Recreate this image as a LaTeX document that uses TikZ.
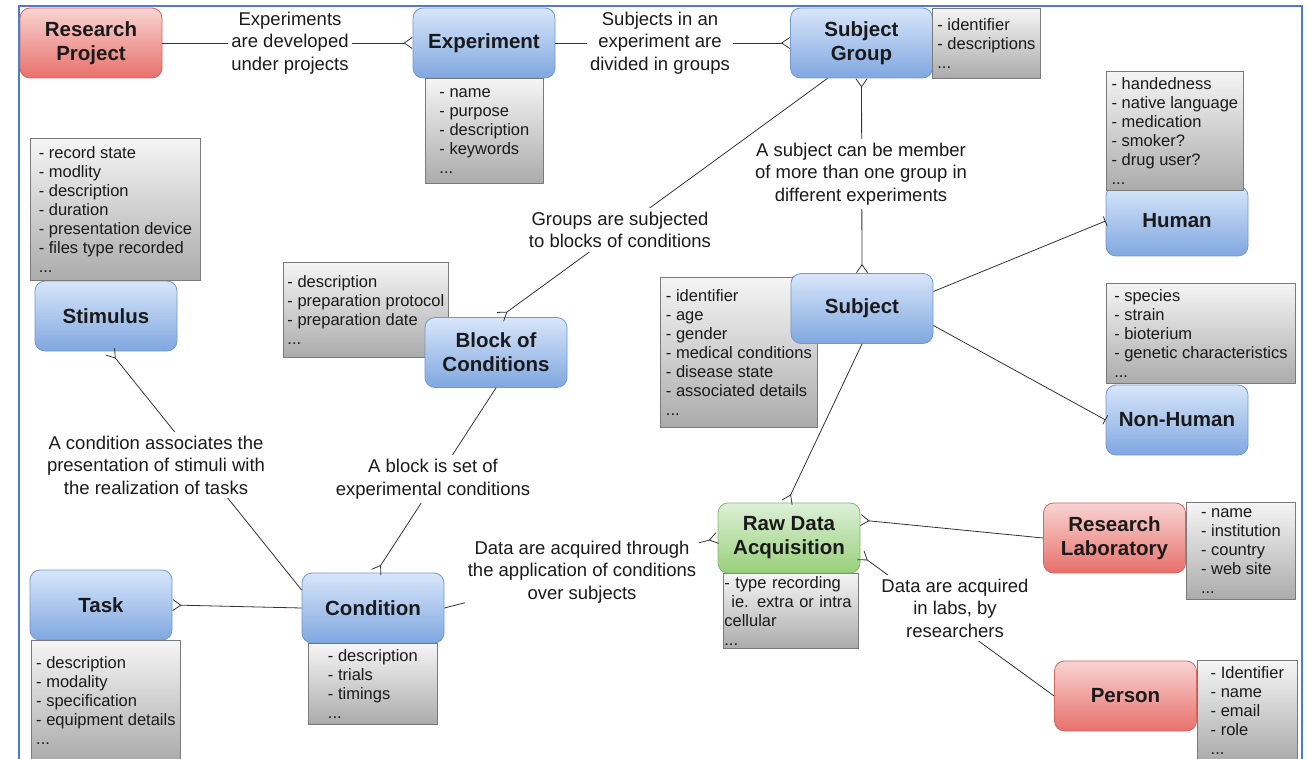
\documentclass[tikz,border=0pt]{standalone}
\usepackage{fontspec}
\setmainfont{Liberation Sans}
\usetikzlibrary{arrows.meta,calc}
\definecolor{bluetop}{HTML}{D8E6FA}
\definecolor{bluebot}{HTML}{7FA7E0}
\definecolor{blueline}{HTML}{7197CF}
\definecolor{redtop}{HTML}{F8D4D2}
\definecolor{redbot}{HTML}{E8706B}
\definecolor{redline}{HTML}{D06863}
\definecolor{greentop}{HTML}{DDF0D8}
\definecolor{greenbot}{HTML}{98D07A}
\definecolor{greenline}{HTML}{86B86C}
\definecolor{graytop}{HTML}{F5F5F5}
\definecolor{graybot}{HTML}{ABABAB}
\definecolor{grayline}{HTML}{7A7A7A}
\definecolor{frameblue}{HTML}{4D7BD2}
\definecolor{ink}{HTML}{1A1A1A}
\tikzset{
  crowf/.tip={Straight Barb[reversed,length=8pt,width=11pt,line width=0.8pt]},
  onebar/.tip={Bar[width=10pt,line width=0.8pt]},
  entity/.style={draw, rounded corners=10pt, minimum width=142pt, minimum height=70pt,
    align=center, text=ink, inner sep=2pt, line width=0.8pt,
    font=\fontsize{20.5}{24}\selectfont\bfseries},
  entblue/.style={entity, draw=blueline, top color=bluetop, bottom color=bluebot},
  entred/.style={entity, draw=redline, top color=redtop, bottom color=redbot},
  entgreen/.style={entity, draw=greenline, top color=greentop, bottom color=greenbot},
  attr/.style={draw=grayline, top color=graytop, bottom color=graybot, anchor=north west,
    align=left, text=ink, inner xsep=1pt, inner ysep=0pt, line width=0.8pt,
    font=\fontsize{16.5}{19}\selectfont},
  rel/.style={fill=white, align=center, text=ink, inner xsep=3pt, inner ysep=4pt,
    font=\fontsize{18.5}{22.5}\selectfont},
  conn/.style={draw=black!80, line width=0.8pt},
  frame/.style={draw=frameblue, line width=2pt}
}
\begin{document}
\begin{tikzpicture}[x=1pt,y=-1pt]
\useasboundingbox (0,0) rectangle (1309,759);
\clip (0,0) rectangle (1309,759);
\draw[frame] (19,6) rectangle (1302,800);

% attribute boxes lying under their entity
\node[attr, minimum width=165pt, minimum height=95pt] (blockattr) at (283,262)
  {- description\\- preparation protocol\\- preparation date\\...};
\node[attr, minimum width=157pt, minimum height=150pt] (subjattr) at (660,277)
  {- identifier\\- age\\- gender\\- medical conditions\\- disease state\\- associated details\\...};
\node[attr, text width=133pt, minimum height=75pt] (rdaattr) at (723,573)
  {- type recording\\\hspace*{7pt}ie. extra or intra\\cellular\\...};

% entities
\node[entred] (rp) at (91,43) {Research\\Project};
\node[entblue] (exp) at (484,43) {Experiment};
\node[entblue] (sg) at (861.5,43) {Subject\\Group};
\node[entblue] (human) at (1177,221) {Human};
\node[entblue] (stim) at (106,316) {Stimulus};
\node[entblue] (block) at (496,352.5) {Block of\\Conditions};
\node[entblue] (subj) at (862,308.5) {Subject};
\node[entblue] (nonhuman) at (1177,420) {Non-Human};
\node[entgreen] (rda) at (789,538) {Raw Data\\Acquisition};
\node[entred] (rl) at (1114.5,538) {Research\\Laboratory};
\node[entred] (person) at (1125.5,696) {Person};
\node[entblue] (task) at (101,605) {Task};
\node[entblue] (cond) at (373,608) {Condition};

% attribute boxes over their entity
\node[attr, minimum width=118pt, minimum height=105pt] (expattr) at (425,78)
  {- name\\- purpose\\- description\\- keywords\\...};
\node[attr, minimum width=108pt, minimum height=70pt] (sgattr) at (932,8)
  {- identifier\\- descriptions\\...};
\node[attr, minimum width=137pt, minimum height=119pt] (humanattr) at (1106,71)
  {- handedness\\- native language\\- medication\\- smoker?\\- drug user?\\...};
\node[attr, minimum width=170pt, minimum height=142pt] (stimattr) at (30,138)
  {- record state\\- modlity\\- description\\- duration\\- presentation device\\- files type recorded\\...};
\node[attr, minimum width=189pt, minimum height=100pt] (nhattr) at (1106,283)
  {- species\\- strain\\- bioterium\\- genetic characteristics\\...};
\node[attr, minimum width=109pt, minimum height=97pt] (rlattr) at (1186,502)
  {- name\\- institution\\- country\\- web site\\...};
\node[attr, minimum width=100pt, minimum height=100pt] (personattr) at (1197,660)
  {- Identifier\\- name\\- email\\- role\\...};
\node[attr, minimum width=149pt, minimum height=120pt] (taskattr) at (31,640)
  {- description\\- modality\\- specification\\- equipment details\\...};
\node[attr, minimum width=129pt, minimum height=81pt] (condattr) at (308,643)
  {- description\\- trials\\- timings\\...};

% connectors
\draw[conn, -{crowf}] (rp.east) -- (exp.west);
\draw[conn, -{crowf}] (exp.east) -- (sg.west);
\draw[conn, -{crowf}] ($(sg.south)+(-34,0)$) -- ($(block.north)+(4,0)$);
\draw[conn, {crowf}-{crowf}] (sg.south) -- (subj.north);
\draw[conn, -{onebar}] ($(subj.east)+(0,-17)$) -- (human.west);
\draw[conn, -{onebar}] ($(subj.east)+(0,17)$) -- (nonhuman.west);
\draw[conn, -{crowf}] (subj.south) -- ($(rda.north)+(-2,0)$);
\draw[conn, {crowf}-] ($(stim.south)+(4,0)$) -- ($(cond.west)+(0,-18)$);
\draw[conn, -{crowf}] (block.south) -- ($(cond.north)+(3,0)$);
\draw[conn, {crowf}-] (task.east) -- (cond.west);
\draw[conn, -{crowf}] (cond.east) -- (rda.west);
\draw[conn, {crowf}-] ($(rda.east)+(0,-18)$) -- (rl.west);
\draw[conn, {crowf}-] ($(rda.east)+(0,17)$) -- (person.west);

% relationship labels
\node[rel] (l1) at (290,43) {Experiments\\are developed\\under projects};
\node[rel] (l2) at (660,43) {Subjects in an\\experiment are\\divided in groups};
\node[rel] (l3) at (620,230) {Groups are subjected\\to blocks of conditions};
\node[rel] (l4) at (861,174) {A subject can be member\\of more than one group in\\different experiments};
\node[rel] (l5) at (156,465) {A condition associates the\\presentation of stimuli with\\the realization of tasks};
\node[rel] (l6) at (433,479) {A block is set of\\experimental conditions};
\node[rel] (l7) at (582,572) {Data are acquired through\\the application of conditions\\over subjects};
\node[rel] (l8) at (955,608) {Data are acquired\\in labs, by\\researchers};
\end{tikzpicture}
\end{document}
